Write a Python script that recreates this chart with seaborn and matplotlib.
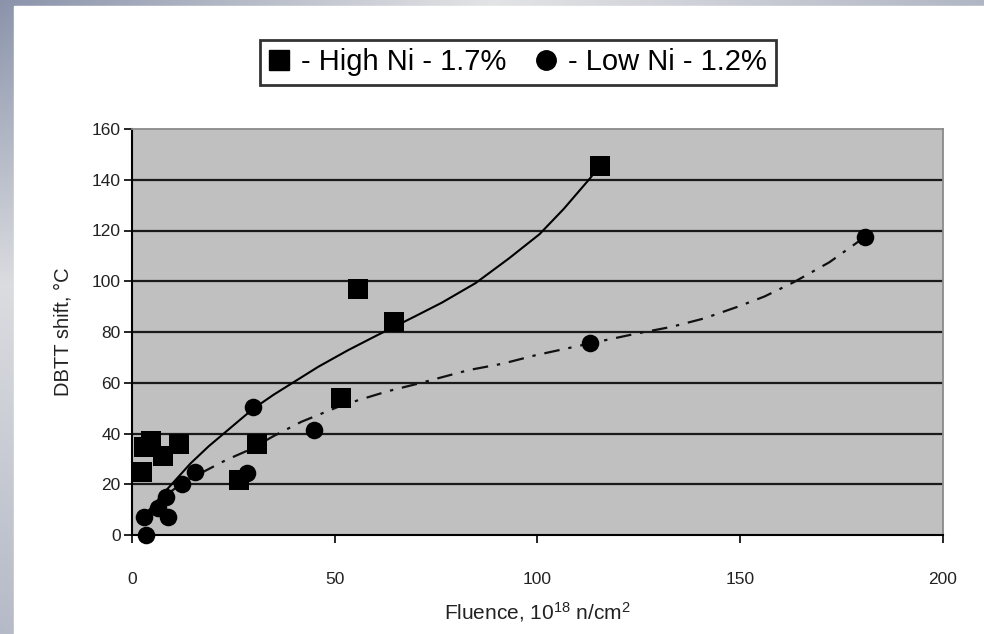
import numpy as np
import pandas as pd
import matplotlib
matplotlib.use("Agg")
import matplotlib.pyplot as plt
from matplotlib.lines import Line2D
from matplotlib.patches import Rectangle
import seaborn as sns

# ---- data ----
high_x = [2.5, 3.0, 4.8, 7.6, 11.7, 26.5, 31.0, 51.7, 55.7, 64.7, 115.4]
high_y = [25.0, 34.5, 37.0, 31.0, 36.0, 21.5, 36.0, 53.8, 97.0, 84.0, 145.5]

low_x = [3.0, 3.5, 6.5, 8.5, 9.0, 12.5, 15.7, 28.5, 30.0, 45.0, 113.0, 180.8]
low_y = [7.2, 0.0, 10.5, 15.0, 7.0, 20.0, 25.0, 24.5, 50.5, 41.3, 75.5, 117.5]

high_trend_x = [2.5, 5.0, 7.8, 11.0, 14.5, 19.0, 23.6, 27.0, 30.0, 35.0, 40.1, 46.0, 53.3, 60.0,
                65.0, 70.0, 76.5, 84.8, 93.0, 100.5, 106.5, 112.9, 115.4]
high_trend_y = [7.0, 11.0, 16.4, 22.0, 28.2, 35.0, 41.2, 45.8, 49.8, 55.3, 60.4, 66.3, 72.8, 78.3,
                82.3, 86.3, 91.6, 99.3, 109.0, 118.5, 128.5, 140.4, 145.5]

low_trend_x = [2.5, 5.0, 8.0, 12.0, 16.1, 23.2, 28.9, 35.0, 41.8, 50.9, 55.8, 63.0, 70.7, 83.1,
               91.4, 99.7, 113.0, 124.5, 133.0, 141.0, 149.3, 156.0, 163.3, 172.0, 180.7]
low_trend_y = [7.0, 10.0, 15.0, 20.0, 23.6, 29.5, 33.5, 39.0, 44.6, 50.5, 53.1, 56.6, 59.7, 65.0,
               67.5, 70.9, 75.5, 79.4, 82.0, 85.3, 89.9, 94.0, 99.7, 107.5, 117.4]

x_ticks = [0, 50, 100, 150, 200]
y_ticks = [0, 20, 40, 60, 80, 100, 120, 140, 160]

legend_labels = ["- High Ni - 1.7%", "- Low Ni - 1.2%"]
x_label = "Fluence, 10$^{18}$ n/cm$^{2}$"
y_label = "DBTT shift, °C"

# ---- figure ----
plt.rcParams["font.family"] = ["Liberation Sans", "DejaVu Sans"]
plt.rcParams["mathtext.default"] = "regular"

fig = plt.figure(figsize=(9.84, 6.34), dpi=100)

# gradient frame background
bg = fig.add_axes([0, 0, 1, 1], zorder=-10)
gx = np.linspace(0, 1, 300)
gy = np.linspace(0, 1, 300)  # 0 = top
a = np.interp(gx, [0, 0.5, 1], [1.0, 0.08, 0.6])[None, :]
b = np.interp(gy, [0, 0.45, 1], [0.9, 0.15, 0.5])[:, None]
t = np.clip(a * b, 0, 1)
dark = np.array([0.50, 0.54, 0.64])
light = np.array([0.92, 0.92, 0.92])
img = light[None, None, :] * (1 - t[..., None]) + dark[None, None, :] * t[..., None]
bg.imshow(img, aspect="auto", extent=[0, 1, 0, 1], origin="upper")
bg.add_patch(Rectangle((14 / 984, 0), 1, 1 - 6 / 634, color="white", transform=bg.transAxes))
bg.set_xlim(0, 1)
bg.set_ylim(0, 1)
bg.axis("off")

ax = fig.add_axes([131.7 / 984, 1 - 535 / 634, (943 - 131.7) / 984, (535 - 129) / 634])
ax.set_facecolor("#c0c0c0")

for yv in y_ticks[1:-1]:
    ax.axhline(yv, color="#1a1a1a", lw=1.6, zorder=1)

df_ht = pd.DataFrame({"x": high_trend_x, "y": high_trend_y})
df_lt = pd.DataFrame({"x": low_trend_x, "y": low_trend_y})
sns.lineplot(data=df_ht, x="x", y="y", ax=ax, color="black", lw=1.5, sort=False,
             estimator=None, zorder=3)
sns.lineplot(data=df_lt, x="x", y="y", ax=ax, color="#111111", lw=1.6, sort=False,
             estimator=None, zorder=3, dashes=False)
ax.lines[-1].set_linestyle((0, (7, 4, 1.5, 4)))

df_h = pd.DataFrame({"x": high_x, "y": high_y})
df_l = pd.DataFrame({"x": low_x, "y": low_y})
sns.scatterplot(data=df_h, x="x", y="y", ax=ax, marker="s", s=190, color="black",
                edgecolor="black", linewidth=0, zorder=4, clip_on=False)
sns.scatterplot(data=df_l, x="x", y="y", ax=ax, marker="o", s=160, color="black",
                edgecolor="black", linewidth=0, zorder=4, clip_on=False)

ax.set_xlim(0, 200)
ax.set_ylim(0, 160)
ax.set_xticks(x_ticks)
ax.set_yticks(y_ticks)
ax.set_xticklabels([str(v) for v in x_ticks])
ax.set_yticklabels([str(v) for v in y_ticks])
ax.tick_params(axis="both", direction="out", length=6, width=1.2, color="black",
               labelsize=12.5, labelcolor="#222222")
ax.tick_params(axis="x", pad=21)
ax.tick_params(axis="y", pad=2)
ax.grid(False)
for side in ["left", "bottom"]:
    ax.spines[side].set_color("black")
    ax.spines[side].set_linewidth(1.5)
for side in ["top", "right"]:
    ax.spines[side].set_color("#8a8a8a")
    ax.spines[side].set_linewidth(1.3)

ax.set_xlabel(x_label, fontsize=15, color="#222222", labelpad=9)
ax.set_ylabel(y_label, fontsize=14.5, color="#222222", labelpad=14)

handles = [Line2D([], [], marker="s", ls="none", color="black", markersize=15),
           Line2D([], [], marker="o", ls="none", color="black", markersize=14)]
leg = fig.legend(handles, legend_labels, loc="center", bbox_to_anchor=(518 / 984, 1 - 62.5 / 634),
                 ncol=2, frameon=True, fancybox=False, edgecolor="black",
                 prop={"family": ["Liberation Sans Narrow", "Liberation Sans"], "size": 21},
                 handlelength=0.7, handletextpad=0.4, columnspacing=1.0,
                 borderpad=0.3, borderaxespad=0)
leg.get_frame().set_linewidth(2.0)

fig.savefig("out.png", dpi=100)
